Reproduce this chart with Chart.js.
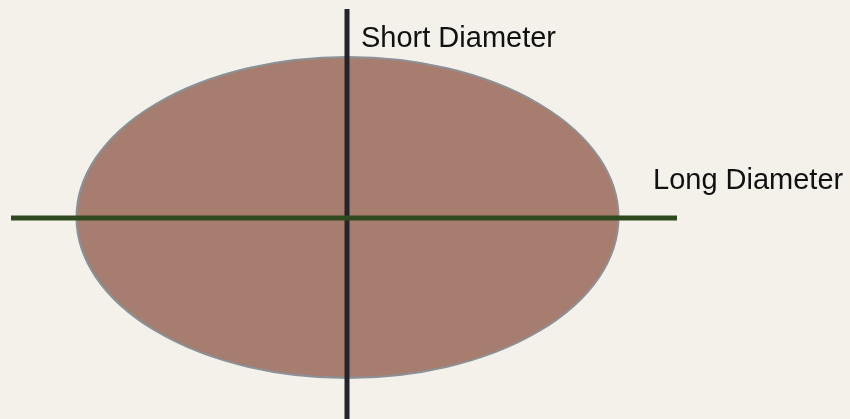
<!DOCTYPE html>
<html>
<head>
<meta charset="utf-8">
<script src="https://cdn.jsdelivr.net/npm/chart.js@4/dist/chart.umd.min.js"></script>
<style>
html,body{margin:0;padding:0;background:#f3f1ea;}
#wrap{width:850px;height:419px;}
</style>
</head>
<body>
<div id="wrap"><canvas id="c" width="850" height="419"></canvas></div>
<script>
// Diagram values (in plot units, x: 0..850, y: 0..419 top-down)
const ellipseCenter = [347.5, 217.5];
const ellipseRadii = [271, 160.5];
const longDiameterX = [11, 677];
const longDiameterY = [218, 218];
const shortDiameterX = [347, 347];
const shortDiameterY = [9, 419];
const labelTexts = ["Short Diameter", "Long Diameter"];
const labelX = [361, 653];
const labelY = [47, 189];

const ellipsePlugin = {
  id: 'ellipse',
  beforeDatasetsDraw(chart) {
    const {ctx, scales: {x, y}} = chart;
    const cx = x.getPixelForValue(ellipseCenter[0]);
    const cy = y.getPixelForValue(ellipseCenter[1]);
    const rx = Math.abs(x.getPixelForValue(ellipseCenter[0] + ellipseRadii[0]) - cx);
    const ry = Math.abs(y.getPixelForValue(ellipseCenter[1] + ellipseRadii[1]) - cy);
    ctx.save();
    ctx.beginPath();
    ctx.ellipse(cx, cy, rx, ry, 0, 0, Math.PI * 2);
    ctx.fillStyle = '#a77d6f';
    ctx.fill();
    ctx.lineWidth = 2;
    ctx.strokeStyle = '#8b9197';
    ctx.stroke();
    ctx.restore();
  },
  afterDatasetsDraw(chart) {
    const {ctx, scales: {x, y}} = chart;
    ctx.save();
    ctx.fillStyle = '#111111';
    ctx.font = '29px "Liberation Sans", Arial, sans-serif';
    ctx.textBaseline = 'alphabetic';
    ctx.textAlign = 'left';
    labelTexts.forEach((t, i) => {
      ctx.fillText(t, x.getPixelForValue(labelX[i]), y.getPixelForValue(labelY[i]));
    });
    ctx.restore();
  }
};

new Chart(document.getElementById('c'), {
  type: 'scatter',
  data: {
    datasets: [
      {
        label: 'Long Diameter',
        data: longDiameterX.map((v, i) => ({x: v, y: longDiameterY[i]})),
        showLine: true,
        borderColor: '#2f4a1f',
        borderWidth: 5,
        pointRadius: 0,
        order: 0
      },
      {
        label: 'Short Diameter',
        data: shortDiameterX.map((v, i) => ({x: v, y: shortDiameterY[i]})),
        showLine: true,
        borderColor: '#25242b',
        borderWidth: 5,
        pointRadius: 0,
        order: 1
      }
    ]
  },
  options: {
    responsive: false,
    animation: false,
    layout: {padding: 0},
    plugins: {legend: {display: false}, tooltip: {enabled: false}},
    scales: {
      x: {type: 'linear', min: 0, max: 850, display: false},
      y: {type: 'linear', min: 0, max: 419, reverse: true, display: false}
    }
  },
  plugins: [ellipsePlugin]
});
</script>
</body>
</html>
